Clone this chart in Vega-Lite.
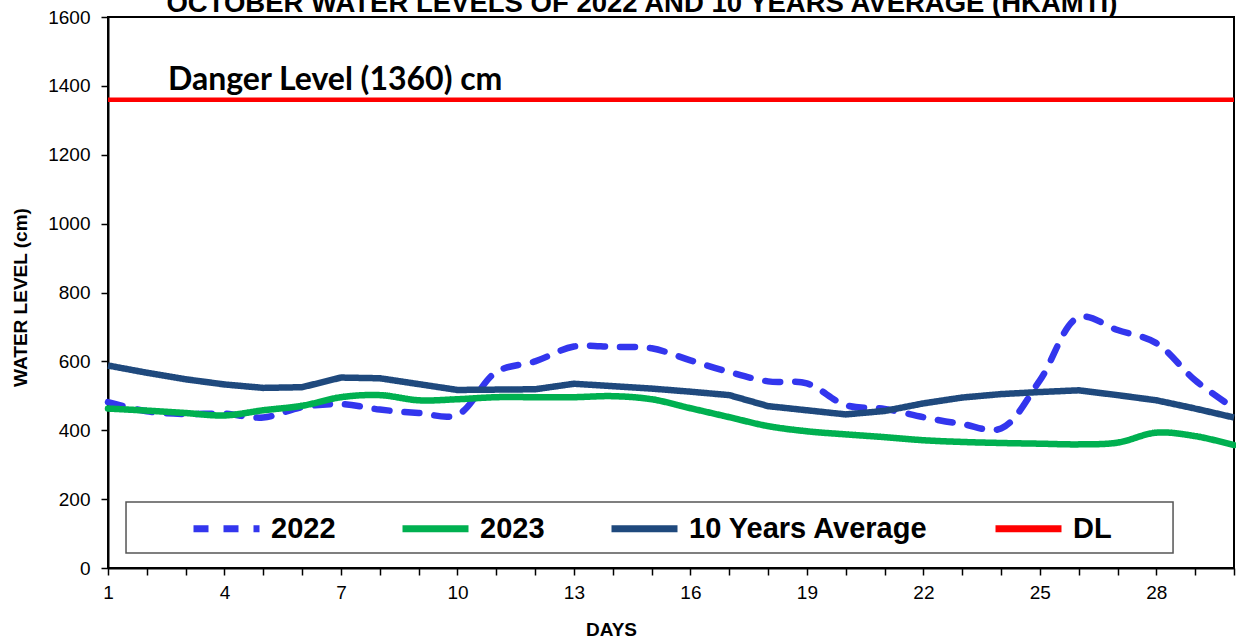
{
  "$schema": "https://vega.github.io/schema/vega-lite/v6.json",
  "width": 1126,
  "height": 551,
  "autosize": "none",
  "padding": {"left": 108, "top": 17, "right": 2, "bottom": 73},
  "background": "white",
  "datasets": {
    "levels": [
      {"day": 1, "series": "2022", "level": 482}, {"day": 2, "series": "2022", "level": 455}, {"day": 3, "series": "2022", "level": 447}, {"day": 4, "series": "2022", "level": 448}, {"day": 5, "series": "2022", "level": 437}, {"day": 6, "series": "2022", "level": 467}, {"day": 7, "series": "2022", "level": 476}, {"day": 8, "series": "2022", "level": 460}, {"day": 9, "series": "2022", "level": 450}, {"day": 10, "series": "2022", "level": 445},
      {"day": 11, "series": "2022", "level": 569}, {"day": 12, "series": "2022", "level": 600}, {"day": 13, "series": "2022", "level": 643}, {"day": 14, "series": "2022", "level": 642}, {"day": 15, "series": "2022", "level": 638}, {"day": 16, "series": "2022", "level": 603}, {"day": 17, "series": "2022", "level": 569}, {"day": 18, "series": "2022", "level": 542}, {"day": 19, "series": "2022", "level": 536}, {"day": 20, "series": "2022", "level": 473},
      {"day": 21, "series": "2022", "level": 462}, {"day": 22, "series": "2022", "level": 438}, {"day": 23, "series": "2022", "level": 418}, {"day": 24, "series": "2022", "level": 405}, {"day": 25, "series": "2022", "level": 545}, {"day": 26, "series": "2022", "level": 728}, {"day": 27, "series": "2022", "level": 691}, {"day": 28, "series": "2022", "level": 653}, {"day": 29, "series": "2022", "level": 545}, {"day": 30, "series": "2022", "level": 464},
      {"day": 1, "series": "2023", "level": 463}, {"day": 2, "series": "2023", "level": 457}, {"day": 3, "series": "2023", "level": 450}, {"day": 4, "series": "2023", "level": 443}, {"day": 5, "series": "2023", "level": 458}, {"day": 6, "series": "2023", "level": 471}, {"day": 7, "series": "2023", "level": 496}, {"day": 8, "series": "2023", "level": 502}, {"day": 9, "series": "2023", "level": 487}, {"day": 10, "series": "2023", "level": 490},
      {"day": 11, "series": "2023", "level": 496}, {"day": 12, "series": "2023", "level": 496}, {"day": 13, "series": "2023", "level": 496}, {"day": 14, "series": "2023", "level": 499}, {"day": 15, "series": "2023", "level": 490}, {"day": 16, "series": "2023", "level": 464}, {"day": 17, "series": "2023", "level": 438}, {"day": 18, "series": "2023", "level": 412}, {"day": 19, "series": "2023", "level": 397}, {"day": 20, "series": "2023", "level": 388},
      {"day": 21, "series": "2023", "level": 380}, {"day": 22, "series": "2023", "level": 371}, {"day": 23, "series": "2023", "level": 366}, {"day": 24, "series": "2023", "level": 363}, {"day": 25, "series": "2023", "level": 361}, {"day": 26, "series": "2023", "level": 359}, {"day": 27, "series": "2023", "level": 364}, {"day": 28, "series": "2023", "level": 393}, {"day": 29, "series": "2023", "level": 383}, {"day": 30, "series": "2023", "level": 357},
      {"day": 1, "series": "10 Years Average", "level": 588}, {"day": 2, "series": "10 Years Average", "level": 567}, {"day": 3, "series": "10 Years Average", "level": 548}, {"day": 4, "series": "10 Years Average", "level": 533}, {"day": 5, "series": "10 Years Average", "level": 523}, {"day": 6, "series": "10 Years Average", "level": 525}, {"day": 7, "series": "10 Years Average", "level": 553}, {"day": 8, "series": "10 Years Average", "level": 551}, {"day": 9, "series": "10 Years Average", "level": 534}, {"day": 10, "series": "10 Years Average", "level": 517},
      {"day": 11, "series": "10 Years Average", "level": 518}, {"day": 12, "series": "10 Years Average", "level": 519}, {"day": 13, "series": "10 Years Average", "level": 535}, {"day": 14, "series": "10 Years Average", "level": 528}, {"day": 15, "series": "10 Years Average", "level": 521}, {"day": 16, "series": "10 Years Average", "level": 512}, {"day": 17, "series": "10 Years Average", "level": 502}, {"day": 18, "series": "10 Years Average", "level": 470}, {"day": 19, "series": "10 Years Average", "level": 458}, {"day": 20, "series": "10 Years Average", "level": 446},
      {"day": 21, "series": "10 Years Average", "level": 456}, {"day": 22, "series": "10 Years Average", "level": 478}, {"day": 23, "series": "10 Years Average", "level": 495}, {"day": 24, "series": "10 Years Average", "level": 505}, {"day": 25, "series": "10 Years Average", "level": 511}, {"day": 26, "series": "10 Years Average", "level": 516}, {"day": 27, "series": "10 Years Average", "level": 502}, {"day": 28, "series": "10 Years Average", "level": 487}, {"day": 29, "series": "10 Years Average", "level": 463}, {"day": 30, "series": "10 Years Average", "level": 437},
      {"day": 1, "series": "DL", "level": 1360}, {"day": 2, "series": "DL", "level": 1360}, {"day": 3, "series": "DL", "level": 1360}, {"day": 4, "series": "DL", "level": 1360}, {"day": 5, "series": "DL", "level": 1360}, {"day": 6, "series": "DL", "level": 1360}, {"day": 7, "series": "DL", "level": 1360}, {"day": 8, "series": "DL", "level": 1360}, {"day": 9, "series": "DL", "level": 1360}, {"day": 10, "series": "DL", "level": 1360},
      {"day": 11, "series": "DL", "level": 1360}, {"day": 12, "series": "DL", "level": 1360}, {"day": 13, "series": "DL", "level": 1360}, {"day": 14, "series": "DL", "level": 1360}, {"day": 15, "series": "DL", "level": 1360}, {"day": 16, "series": "DL", "level": 1360}, {"day": 17, "series": "DL", "level": 1360}, {"day": 18, "series": "DL", "level": 1360}, {"day": 19, "series": "DL", "level": 1360}, {"day": 20, "series": "DL", "level": 1360},
      {"day": 21, "series": "DL", "level": 1360}, {"day": 22, "series": "DL", "level": 1360}, {"day": 23, "series": "DL", "level": 1360}, {"day": 24, "series": "DL", "level": 1360}, {"day": 25, "series": "DL", "level": 1360}, {"day": 26, "series": "DL", "level": 1360}, {"day": 27, "series": "DL", "level": 1360}, {"day": 28, "series": "DL", "level": 1360}, {"day": 29, "series": "DL", "level": 1360}, {"day": 30, "series": "DL", "level": 1360}
    ],
    "notes": [
      {"note": "legend box"}
    ],
    "danger": [
      {"label": "Danger Level (1360) cm"}
    ],
    "heading": [
      {"label": "OCTOBER WATER  LEVELS OF 2022  AND 10 YEARS  AVERAGE  (HKAMTI)"}
    ]
  },
  "layer": [
    {
      "data": {"name": "levels"},
      "encoding": {
        "x": {
          "field": "day", "type": "quantitative",
          "scale": {"domain": [1, 30], "nice": false, "zero": false},
          "axis": {
            "title": "DAYS",
            "values": [1,2,3,4,5,6,7,8,9,10,11,12,13,14,15,16,17,18,19,20,21,22,23,24,25,26,27,28,29,30],
            "labelExpr": "(datum.value - 1) % 3 == 0 ? datum.label : ''",
            "tickSize": 7,
            "labelPadding": 8,
            "titleX": 503,
            "titleY": 67,
            "titleBaseline": "alphabetic",
            "titleAlign": "center",
            "labelFlush": false,
            "labelOverlap": false
          }
        },
        "y": {
          "field": "level", "type": "quantitative",
          "scale": {"domain": [0, 1600], "nice": false},
          "axis": {
            "title": "WATER LEVEL (cm)",
            "values": [0,200,400,600,800,1000,1200,1400,1600],
            "format": "d",
            "tickSize": 7,
            "labelPadding": 11,
            "titleX": -88,
            "titleY": 280,
            "titleAlign": "center",
            "titleBaseline": "middle",
            "titleAngle": 270
          }
        },
        "color": {
          "field": "series", "type": "nominal",
          "scale": {"domain": ["2022", "2023", "10 Years Average", "DL"], "range": ["#3336EE", "#00B050", "#1F497D", "#FF0000"]}
        },
        "strokeDash": {
          "field": "series", "type": "nominal",
          "scale": {"domain": ["2022", "2023", "10 Years Average", "DL"], "range": [[15, 15], [1, 0], [1, 0], [1, 0]]}
        }
      },
      "layer": [
        {
          "transform": [{"filter": "datum.series == '2022' || datum.series == '2023'"}],
          "mark": {"type": "line", "interpolate": "catmull-rom", "strokeWidth": 6.5, "strokeCap": "round", "strokeJoin": "round"}
        },
        {
          "transform": [{"filter": "datum.series == '10 Years Average'"}],
          "mark": {"type": "line", "strokeWidth": 6.5, "strokeJoin": "round"}
        },
        {
          "transform": [{"filter": "datum.series == 'DL'"}],
          "mark": {"type": "line", "strokeWidth": 4.5}
        }
      ]
    },
    {
      "data": {"name": "notes"},
      "mark": {"type": "rect", "fill": "white", "stroke": "#555555", "strokeWidth": 1.5},
      "encoding": {
        "x": {"datum": 1.464, "type": "quantitative", "axis": {"title": "DAYS", "values": [1,2,3,4,5,6,7,8,9,10,11,12,13,14,15,16,17,18,19,20,21,22,23,24,25,26,27,28,29,30]}},
        "x2": {"datum": 28.43},
        "y": {"datum": 43.6, "type": "quantitative", "axis": {"title": "WATER LEVEL (cm)", "values": [0,200,400,600,800,1000,1200,1400,1600]}},
        "y2": {"datum": 191.6}
      }
    },
    {
      "data": {"name": "danger"},
      "mark": {"type": "text", "align": "left", "baseline": "alphabetic", "font": "Lato", "fontWeight": "bold", "fontSize": 32, "color": "black"},
      "encoding": {
        "text": {"field": "label"},
        "x": {"datum": 2.545, "type": "quantitative", "axis": {"title": "DAYS", "values": [1,2,3,4,5,6,7,8,9,10,11,12,13,14,15,16,17,18,19,20,21,22,23,24,25,26,27,28,29,30]}},
        "y": {"datum": 1388, "type": "quantitative", "axis": {"title": "WATER LEVEL (cm)", "values": [0,200,400,600,800,1000,1200,1400,1600]}}
      }
    },
    {
      "data": {"name": "heading"},
      "mark": {"type": "text", "align": "center", "baseline": "alphabetic", "font": "Liberation Sans", "fontWeight": "bold", "fontSize": 27.5, "color": "black"},
      "encoding": {
        "text": {"field": "label"},
        "x": {"datum": 14.75, "type": "quantitative", "axis": {"title": "DAYS", "values": [1,2,3,4,5,6,7,8,9,10,11,12,13,14,15,16,17,18,19,20,21,22,23,24,25,26,27,28,29,30]}},
        "y": {"datum": 1614.5, "type": "quantitative", "axis": {"title": "WATER LEVEL (cm)", "values": [0,200,400,600,800,1000,1200,1400,1600]}}
      }
    }
  ],
  "resolve": {"scale": {"x": "shared", "y": "shared", "color": "shared", "strokeDash": "shared"}},
  "config": {
    "view": {"stroke": "black", "strokeWidth": 2},
    "axis": {
      "grid": false,
      "domainColor": "black",
      "domainWidth": 2,
      "tickColor": "black",
      "tickWidth": 1.5,
      "labelFont": "Liberation Sans",
      "labelFontSize": 19,
      "labelColor": "black",
      "titleFont": "Liberation Sans",
      "titleFontWeight": "bold",
      "titleFontSize": 19,
      "titleColor": "black"
    },
    "legend": {
      "orient": "none",
      "legendX": 82,
      "legendY": 475,
      "direction": "horizontal",
      "title": null,
      "symbolType": "stroke",
      "symbolSize": 4356,
      "symbolStrokeWidth": 7,
      "labelFont": "Liberation Sans",
      "labelFontWeight": "bold",
      "labelFontSize": 29,
      "labelColor": "black",
      "labelOffset": 8,
      "columnPadding": 52,
      "padding": 0,
      "labelLimit": 400
    }
  }
}
